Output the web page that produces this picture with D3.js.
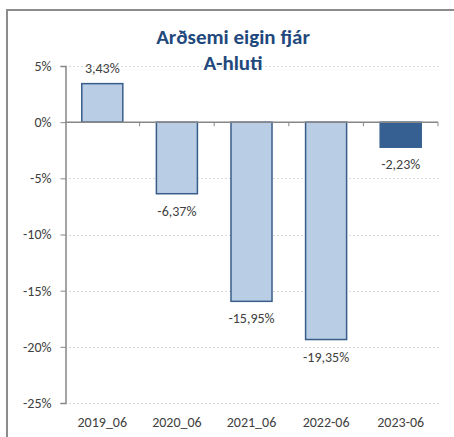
<!DOCTYPE html>
<html><head><meta charset="utf-8">
<script src="https://cdn.jsdelivr.net/npm/d3@7"></script>
<style>body{margin:0;background:#fff;}svg{display:block;}</style>
</head><body>
<svg id="c" width="454" height="437"></svg>
<script>
const categories = ["2019_06","2020_06","2021_06","2022-06","2023-06"];
const values = [3.43, -6.37, -15.95, -19.35, -2.23];
const labels = ["3,43%","-6,37%","-15,95%","-19,35%","-2,23%"];
const yTicks = [5,0,-5,-10,-15,-20,-25];
const highlight = [false,false,false,false,true];

const svg = d3.select("#c");
const font = "Calibri, Carlito, 'Liberation Sans', Arial, sans-serif";

// frame
svg.append("rect").attr("x",7).attr("y",10).attr("width",460).attr("height",440)
  .attr("fill","#fff").attr("stroke","#8c8c8c").attr("stroke-width",2);

const left = 65, right = 438;
const y = d3.scaleLinear().domain([-25,5]).range([403,66]);
const x = d3.scaleBand().domain(categories).range([left,right]).paddingInner(0.45).paddingOuter(0.225);

// gridlines
svg.append("g").selectAll("line").data(yTicks.filter(d=>d!==0)).join("line")
  .attr("x1",left).attr("x2",right+1).attr("y1",d=>Math.round(y(d))+0.5).attr("y2",d=>Math.round(y(d))+0.5)
  .attr("stroke","#d9d9d9").attr("stroke-dasharray","2,2");

// y axis
const yAxis = d3.axisLeft(y).tickValues(yTicks).tickSize(5).tickPadding(9).tickFormat(d=>d+"%");
const gy = svg.append("g").attr("transform",`translate(${left+0.5},0)`).call(yAxis);
gy.select(".domain").attr("stroke","#868686").attr("stroke-width",1.5);
gy.selectAll(".tick line").attr("stroke","#868686");
gy.selectAll(".tick text").attr("font-family",font).attr("font-size",14).attr("fill","#404040");

// bars
svg.append("g").selectAll("rect").data(values).join("rect")
  .attr("x",(d,i)=>x(categories[i]))
  .attr("width",x.bandwidth())
  .attr("y",d=>y(Math.max(0,d)))
  .attr("height",d=>Math.abs(y(d)-y(0)))
  .attr("fill",(d,i)=>highlight[i]?"#366092":"#b9cde5")
  .attr("stroke",(d,i)=>highlight[i]?"#366092":"#385d8a")
  .attr("stroke-width",1.5);

// x axis at 0
const gx = svg.append("g").attr("transform",`translate(0,${y(0)})`);
gx.append("line").attr("x1",left).attr("x2",right).attr("y1",0).attr("y2",0)
  .attr("stroke","#868686").attr("stroke-width",1.5);
const bounds = d3.range(categories.length+1).map(i=>left+i*(right-left)/categories.length);
gx.selectAll("line.tk").data(bounds.slice(1)).join("line").attr("class","tk")
  .attr("x1",d=>d).attr("x2",d=>d).attr("y1",0).attr("y2",4).attr("stroke","#868686");

// category labels
svg.append("g").selectAll("text").data(categories).join("text")
  .attr("x",d=>x(d)+x.bandwidth()/2).attr("y",427)
  .attr("text-anchor","middle").attr("font-family",font).attr("font-size",14).attr("fill","#404040")
  .text(d=>d);

// value labels
svg.append("g").selectAll("text").data(values).join("text")
  .attr("x",(d,i)=>x(categories[i])+x.bandwidth()/2)
  .attr("y",d=>d>=0? y(d)-11 : y(d)+22)
  .attr("text-anchor","middle").attr("font-family",font).attr("font-size",14).attr("fill","#404040")
  .text((d,i)=>labels[i]);

// title
const title = svg.append("text").attr("text-anchor","middle").attr("font-family",font)
  .attr("font-size",21).attr("font-weight","bold").attr("fill","#1f497d");
title.append("tspan").attr("x",233).attr("y",44).text("Arðsemi eigin fjár");
title.append("tspan").attr("x",233).attr("y",70).text("A-hluti");
</script>
</body></html>
